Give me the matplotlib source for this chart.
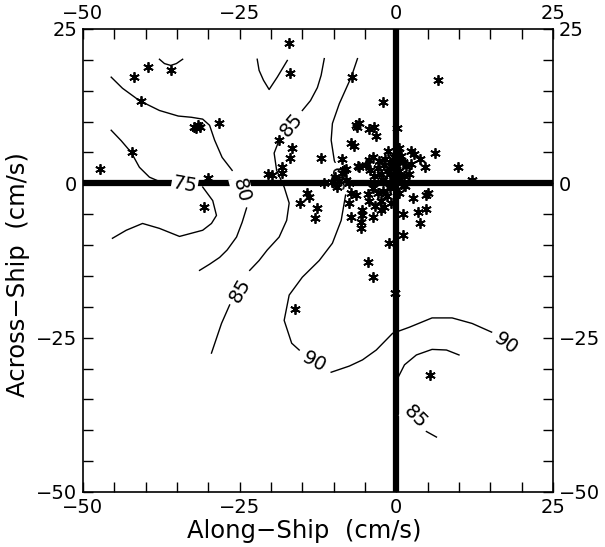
import numpy as np
import matplotlib
matplotlib.use("Agg")
import matplotlib.pyplot as plt
from matplotlib.ticker import MultipleLocator

# observaciones (cm/s)
along = [-41.9, -39.6, -36.0, -40.8, -32.3, -31.7, -31.9, -31.4, -28.3, -42.2, -47.3, -30.1, -30.7,
         -17.2, -16.9, -7.0, -2.1, -6.5, -5.9, -6.3, -4.3, -3.5, -3.2, -7.2, -6.8, -18.8, -16.6,
         -17.0, -12.1, -8.6, -20.4, -19.9, -18.3, -18.2, -6.1, -8.0, -4.3, -5.9,
         6.6, 0.1, 0.5, 2.4, 2.8, 3.8, 6.1, 4.6, 9.9, 2.4, 12.1, 1.3, -11.5,
         -7.2, -6.5, -7.5, -7.3, -5.4, -5.4, -5.6, -5.6, -3.8, -2.5, -4.3, 1.4, 2.7, 4.8, 5.1,
         4.8, 3.5, 3.7, 1.0, 1.1, -4.6, -3.8, -1.1, -0.2, -15.4, -14.2, -13.9, -12.7, -12.9,
         -16.1, 5.3,
         -1.0, -0.5, 0.0, 0.5, 1.0, -1.5, -2.0, -2.5, -3.0, -1.0, 0.3, -0.3, 0.8, 1.5, -1.8,
         -2.8, -3.5, -4.2, -0.6, 1.2, -2.2, 0.2, -1.3, -4.8, -3.8, 2.0, -0.8, 0.6,
         -3.8, -3.0, -2.2, -1.5, -0.8, -2.5, -4.5, -1.0, 0.4, -3.4, -2.0,
         -9.8, -9.2, -8.6, -8.0, -9.5, -10.3, -8.3, -7.5]
across = [17.2, 18.8, 18.3, 13.3, 9.2, 9.4, 8.9, 9.1, 9.7, 5.0, 2.3, 0.8, -3.9,
          22.7, 17.8, 17.2, 13.1, 9.5, 9.7, 9.1, 8.8, 9.1, 7.6, 6.5, 6.0, 7.0, 5.7,
          4.1, 4.1, 3.9, 1.5, 1.3, 2.6, 1.6, 2.8, 2.4, 3.7, 2.6,
          16.7, 8.9, 5.7, 5.3, 4.7, 3.9, 4.9, 2.6, 2.6, 3.2, 0.5, -0.3, 0.0,
          -1.6, -1.9, -3.2, -5.5, -4.4, -5.2, -6.3, -7.3, -5.5, -4.4, -2.8, -0.5, -2.3, -1.9, -1.6,
          -4.1, -4.7, -6.5, -5.0, -8.3, -12.8, -15.2, -9.7, -17.8, -3.2, -1.5, -2.2, -4.0, -5.6,
          -20.4, -31.1,
          3.5, 2.5, 3.0, 2.0, 3.5, 2.0, 3.0, 1.5, 2.5, 1.5, 1.0, 4.2, 4.5, 2.8, 4.0,
          3.6, 1.2, 2.2, 0.8, 1.2, 0.6, 5.0, 5.2, 3.0, 4.3, 1.5, 2.8, 3.8,
          -0.8, -1.5, -1.2, -2.0, -3.2, -2.8, -1.8, -0.8, -1.5, -3.6, -3.8,
          1.0, 0.3, 1.6, 0.6, -0.6, 0.2, 2.2, 0.0]

# isolineas
contornos = [
    ([-37.8, -37.0, -36.0, -35.1, -34.1], [20.1, 19.4, 19.1, 19.4, 20.1]),
    ([-45.5, -43.7, -41.0, -37.8, -34.8, -32.7, -30.9, -29.8, -29.0, -27.8, -26.2],
     [17.2, 15.4, 13.4, 11.8, 10.9, 10.7, 10.4, 9.4, 7.0, 4.2, 2.1]),
    ([-23.9, -24.6, -25.5, -27.0, -28.2, -29.8, -31.4], [-4.0, -6.3, -8.7, -10.8, -12.0, -13.1, -14.1]),
    ([-45.5, -43.9, -42.3, -41.0, -39.4, -37.8, -36.5], [8.6, 6.9, 5.0, 2.6, 1.0, 0.3, 0.0]),
    ([-30.9, -29.3, -28.7, -29.5, -30.9, -34.6, -37.8, -40.5, -43.1, -45.3],
     [-0.6, -2.8, -5.2, -6.5, -7.6, -8.6, -7.3, -6.5, -7.6, -8.9]),
    ([-22.2, -21.9, -21.2, -20.3, -19.0, -17.4], [20.1, 18.3, 16.7, 15.2, 17.2, 19.9]),
    ([-11.5, -12.0, -12.6, -13.7, -15.0], [20.2, 17.5, 15.5, 13.4, 11.8]),
    ([-18.7, -19.5, -19.1, -17.9, -17.1, -17.5, -18.7, -20.6, -21.9, -23.4],
     [7.0, 4.9, 2.1, -0.6, -3.2, -6.0, -8.7, -10.8, -12.5, -14.1]),
    ([-26.6, -27.9, -29.5], [-19.7, -22.7, -27.5]),
    ([-6.2, -7.2, -9.1, -10.2, -10.4, -9.9, -9.4], [20.2, 17.2, 12.9, 9.7, 7.0, 3.7, 2.4]),
    ([-8.1, -8.8, -10.2, -12.3, -15.0, -17.1, -17.9, -16.7, -15.5],
     [-1.9, -6.0, -9.7, -12.5, -15.2, -18.1, -22.2, -25.9, -27.0]),
    ([-10.4, -7.5, -5.4, -3.2, -0.6, 2.1, 5.7, 8.9, 12.1, 15.2],
     [-30.6, -29.6, -28.6, -27.0, -24.3, -23.3, -21.8, -21.8, -22.7, -24.1]),
    ([10.0, 8.0, 5.7, 3.2, 1.3, 0.3, 0.2], [-27.8, -27.0, -26.9, -27.8, -29.4, -31.4, -35.6]),
    ([4.8, 6.4], [-40.2, -41.1]),
]
etiquetas = [("75", -33.8, -0.3, -10), ("80", -24.7, -1.1, -75), ("85", -16.7, 9.5, 50),
             ("85", -25.0, -17.3, 60), ("90", -8.9, 1.0, 80), ("90", -13.1, -29.0, -28),
             ("90", 17.5, -25.9, -35), ("85", 3.0, -37.9, -45)]

fig = plt.figure(figsize=(6.05, 5.47), dpi=100)
ax = fig.add_axes([83/605, 1-492/547, 470/605, 463/547])

ax.axhline(0, color='black', lw=4.5, zorder=1)
ax.axvline(0, color='black', lw=4.5, zorder=1)
for xs, ys in contornos:
    ax.plot(xs, ys, color='black', lw=1.0, zorder=2)
for txt, x, y, rot in etiquetas:
    ax.text(x, y, txt, fontsize=14, rotation=rot, ha='center', va='center', zorder=3,
            bbox=dict(facecolor='white', edgecolor='none', pad=0.5))
ax.plot(along, across, linestyle='none', marker=(6, 2, 0), markersize=7.5,
        markeredgewidth=1.3, color='black', zorder=4)

ax.set_xlim(-50, 25)
ax.set_ylim(-50, 25)
ax.set_xticks([-50, -25, 0, 25])
ax.set_yticks([-50, -25, 0, 25])
ax.xaxis.set_minor_locator(MultipleLocator(5))
ax.yaxis.set_minor_locator(MultipleLocator(5))
ax.tick_params(which='both', direction='in', top=True, right=True, length=7, width=1)
ax.tick_params(which='major', labeltop=True, labelright=True, labelsize=14, pad=4)
for s in ax.spines.values():
    s.set_linewidth(1.2)

ax.set_xlabel('Along\u2212Ship  (cm/s)', fontsize=17.5)
ax.set_ylabel('Across\u2212Ship  (cm/s)', fontsize=17.5)
ax.xaxis.set_label_coords(0.47, -0.058)
ax.yaxis.set_label_coords(-0.113, 0.47)

fig.savefig('out.png', dpi=100)
